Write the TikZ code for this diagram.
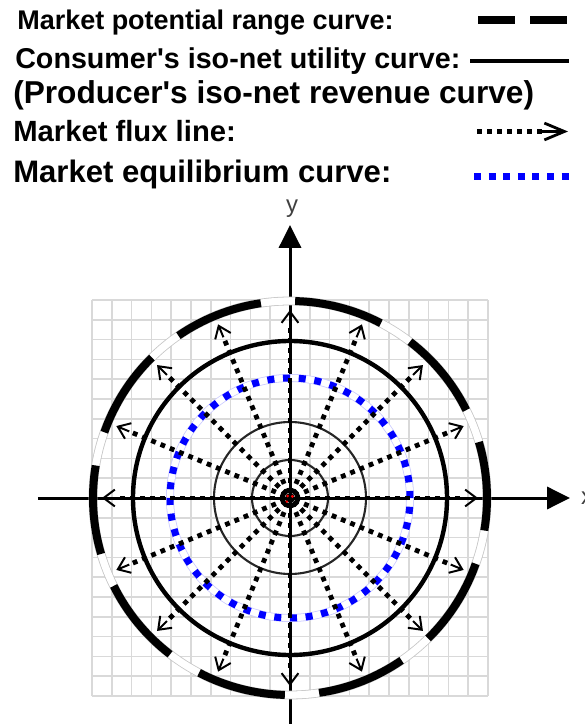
\documentclass[tikz,border=0pt]{standalone}
\usepackage{fontspec}
\setmainfont{Liberation Sans}
\usetikzlibrary{arrows.meta}

\definecolor{eqblue}{RGB}{0,0,255}

\tikzset{
  gridline/.style={gray!30,line width=1.2pt},
  rangeband/.style={gray!45,line width=0.22cm},
  rangedash/.style={black,line width=0.2cm},
  isoline/.style={black,line width=0.11cm},
  isothin/.style={black!85,line width=1.5pt},
  fluxline/.style={black,line width=0.12cm,dash pattern=on 0.12cm off 0.13cm},
  fluxhead/.style={black,line width=1.4pt,-{Straight Barb[length=0.28cm,width=0.42cm]}},
  equiline/.style={eqblue,line width=0.175cm,dash pattern=on 0.175cm off 0.2177cm},
  axisline/.style={black,line width=0.075cm,-{Triangle[length=0.57cm,width=0.55cm]}},
  legtext/.style={anchor=base west,inner sep=0pt,font=\bfseries},
  axlabel/.style={inner sep=0pt,black!75,font=\fontsize{17}{17}\selectfont},
}

\begin{document}
\begin{tikzpicture}[x=1cm,y=1cm]
  \useasboundingbox (-7.25,-5.65) rectangle (7.35,12.45);

  % legend
  \node[legtext,font=\bfseries\fontsize{19.2}{20}\selectfont] (lgrange) at (-6.825,11.7175)
    {Market potential range curve:};
  \node[legtext,font=\bfseries\fontsize{20.4}{21}\selectfont] (lgutil) at (-6.875,10.74)
    {Consumer\textquotesingle s iso-net utility curve:};
  \node[legtext,font=\bfseries\fontsize{22.5}{23}\selectfont] (lgprod) at (-6.925,9.85)
    {(Producer\textquotesingle s iso-net revenue curve)};
  \node[legtext,font=\bfseries\fontsize{20.8}{21}\selectfont] (lgflux) at (-6.925,8.9)
    {Market flux line:};
  \node[legtext,font=\bfseries\fontsize{22.1}{23}\selectfont] (lgequil) at (-6.925,7.88)
    {Market equilibrium curve:};

  \draw[rangedash,dash pattern=on 0.925cm off 0.375cm] (4.7,11.95) -- (6.925,11.95);
  \draw[isoline] (4.5,10.925) -- (6.975,10.925);
  \draw[fluxline] (4.675,9.1625) -- (6.35,9.1625);
  \draw[fluxhead,line width=2pt,-{Straight Barb[length=0.5cm,width=0.42cm]}]
    (6.3,9.1625) -- (6.95,9.1625);
  \draw[equiline,dash pattern=on 0.175cm off 0.19cm] (4.6,8.0325) -- (7.0,8.0325);

  % graph paper
  \foreach \k in {-10,...,10} {
    \draw[gridline] (\k*0.495,-4.95) -- (\k*0.495,4.95);
    \draw[gridline] (-4.95,\k*0.495) -- (4.95,\k*0.495);
  }

  % axes
  \coordinate (xl) at (-6.3,0);
  \coordinate (xr) at (7.0,0);
  \coordinate (yb) at (0,-5.7);
  \coordinate (yt) at (0,6.825);
  \draw[axisline] (xl) -- (xr);
  \draw[axisline] (yb) -- (yt);
  \node[axlabel] (ylab) at (0.05,7.23) {y};
  \node[axlabel,anchor=west] (xlab) at (7.27,0) {x};

  % market potential range curve
  \draw[rangeband] (0,0) circle[radius=4.925];
  \draw[white,line width=0.18cm] (0,0) circle[radius=4.925];
  \foreach \k in {0,...,9}
    \draw[rangedash] ({62.5-36*\k}:4.925)
      arc[start angle=62.5-36*\k,end angle=88.5-36*\k,radius=4.925];

  % iso-net curves
  \draw[isoline] (0,0) circle[radius=3.925];
  \draw[isothin] (0,0) circle[radius=1.9];
  \draw[isothin] (0,0) circle[radius=0.95];

  % market equilibrium curve
  \draw[blue!20,line width=0.2cm] (0,0) circle[radius=3.0];
  \draw[white,line width=0.16cm] (0,0) circle[radius=3.0];
  \draw[equiline] (0,0) circle[radius=3.0];

  % market flux lines
  \node[circle,fill=black,inner sep=0pt,minimum size=0.25cm] (origin) at (0,0) {};
  \foreach \a [count=\i] in {0,22.5,...,337.5} {
    \coordinate (f\i) at (\a:4.7);
    \coordinate (g\i) at (\a:4.35);
    \draw[fluxline] (origin.\a) -- (g\i);
    \draw[fluxhead] (g\i) -- (f\i);
  }
  \fill[red] (-0.06,0.05) circle[radius=0.04]
             (0.06,0.04) circle[radius=0.04]
             (-0.08,-0.09) circle[radius=0.035];
\end{tikzpicture}
\end{document}
